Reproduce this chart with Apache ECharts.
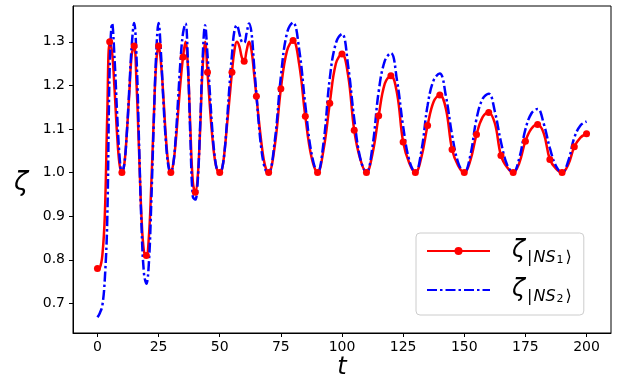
<!DOCTYPE html>
<html>
<head>
<meta charset="utf-8">
<script src="https://cdn.jsdelivr.net/npm/echarts@6/dist/echarts.min.js"></script>
<style>
html, body { margin: 0; padding: 0; background: #fff; }
#chart { width: 619px; height: 383px; }
</style>
</head>
<body>
<div id="chart"></div>
<script>
// time grid: fine steps in the fast part, coarser later
var tEarly = [0, 1, 2, 3, 4, 5, 6, 7, 8, 9,
  10, 11, 12, 13, 14, 15, 16, 17, 18, 19,
  20, 21, 22, 23, 24, 25, 26, 27, 28, 29,
  30, 31, 32, 33, 34, 35, 36, 37, 38, 39,
  40, 41, 42, 43, 44, 45, 46, 47, 48, 49,
  50, 51, 52, 53, 54, 55, 56, 57, 58, 59,
  60, 61, 62, 63, 64, 65, 66, 67, 68, 69, 70];
var tLate = [72.5, 75, 77.5, 80, 82.5, 85, 87.5, 90,
  92.5, 95, 97.5, 100, 102.5, 105, 107.5, 110,
  112.5, 115, 117.5, 120, 122.5, 125, 127.5, 130,
  132.5, 135, 137.5, 140, 142.5, 145, 147.5, 150,
  152.5, 155, 157.5, 160, 162.5, 165, 167.5, 170,
  172.5, 175, 177.5, 180, 182.5, 185, 187.5, 190,
  192.5, 195, 197.5, 200];

// zeta |NS1>
var redEarly = [0.780, 0.782, 0.810, 0.900, 1.130, 1.300, 1.275, 1.190, 1.090, 1.020,
  1.000, 1.020, 1.090, 1.180, 1.270, 1.290, 1.200, 1.050, 0.900, 0.820,
  0.810, 0.850, 0.970, 1.120, 1.250, 1.290, 1.250, 1.170, 1.080, 1.020,
  1.000, 1.020, 1.070, 1.140, 1.210, 1.265, 1.300, 1.240, 1.100, 0.980,
  0.955, 0.990, 1.100, 1.240, 1.300, 1.230, 1.150, 1.080, 1.030, 1.005,
  1.000, 1.010, 1.050, 1.110, 1.170, 1.230, 1.280, 1.300, 1.290, 1.265,
  1.255, 1.280, 1.300, 1.280, 1.230, 1.175, 1.120, 1.070, 1.030, 1.007, 1.000];
var redLate = [1.061, 1.192, 1.279, 1.303, 1.248, 1.129, 1.036, 1.000,
  1.054, 1.159, 1.250, 1.272, 1.223, 1.097, 1.030, 1.000,
  1.044, 1.130, 1.204, 1.222, 1.182, 1.070, 1.022, 1.000,
  1.036, 1.108, 1.163, 1.178, 1.146, 1.053, 1.016, 1.000,
  1.028, 1.087, 1.127, 1.138, 1.113, 1.039, 1.012, 1.000,
  1.022, 1.072, 1.101, 1.110, 1.090, 1.030, 1.009, 1.000,
  1.018, 1.059, 1.080, 1.089];

// zeta |NS2>
var blueEarly = [0.668, 0.678, 0.695, 0.755, 0.890, 1.240, 1.342, 1.260, 1.140, 1.040,
  1.000, 1.020, 1.090, 1.190, 1.290, 1.343, 1.260, 1.070, 0.880, 0.770,
  0.745, 0.790, 0.930, 1.110, 1.270, 1.343, 1.270, 1.160, 1.070, 1.015,
  1.000, 1.020, 1.080, 1.170, 1.260, 1.320, 1.342, 1.250, 1.080, 0.945,
  0.938, 0.980, 1.110, 1.260, 1.338, 1.270, 1.180, 1.095, 1.035, 1.005,
  1.000, 1.010, 1.050, 1.120, 1.200, 1.270, 1.325, 1.338, 1.320, 1.300,
  1.298, 1.320, 1.342, 1.320, 1.250, 1.180, 1.110, 1.055, 1.020, 1.003, 1.000];
var blueLate = [1.072, 1.220, 1.320, 1.344, 1.282, 1.155, 1.045, 1.000,
  1.071, 1.216, 1.297, 1.318, 1.245, 1.123, 1.032, 1.000,
  1.061, 1.186, 1.256, 1.274, 1.211, 1.106, 1.028, 1.000,
  1.051, 1.154, 1.212, 1.227, 1.175, 1.087, 1.023, 1.000,
  1.040, 1.123, 1.169, 1.181, 1.140, 1.070, 1.018, 1.000,
  1.033, 1.099, 1.136, 1.146, 1.112, 1.056, 1.015, 1.000,
  1.026, 1.080, 1.108, 1.117];

var xTicks = [0, 25, 50, 75, 100, 125, 150, 175, 200];
var yTicks = [0.7, 0.8, 0.9, 1.0, 1.1, 1.2, 1.3];

var tAll = tEarly.concat(tLate);
var redAll = redEarly.concat(redLate);
var blueAll = blueEarly.concat(blueLate);

// markers only every 5 time units on the red curve
var redData = tAll.map(function (t, i) {
    var item = { value: [t, redAll[i]] };
    if (t % 5 !== 0) item.symbol = 'none';
    return item;
});
var blueData = tAll.map(function (t, i) { return [t, blueAll[i]]; });

var legendText = {
    'NS1': '{z|ζ}{bar||}{ns|NS}{one|1}{ket|⟩}',
    'NS2': '{z|ζ}{bar||}{ns|NS}{one|2}{ket|⟩}'
};

var myChart = echarts.init(document.getElementById('chart'));

var option = {
    animation: false,
    grid: {
        left: 73, right: 8, top: 6, bottom: 50,
        show: true, borderColor: '#000', borderWidth: 1
    },
    xAxis: {
        type: 'value', min: -10, max: 210,
        splitLine: { show: false },
        axisLine: { show: true, onZero: false, lineStyle: { color: '#000', width: 1 } },
        axisTick: { show: true, inside: false, length: 4, lineStyle: { color: '#000' }, customValues: xTicks },
        axisLabel: { customValues: xTicks, color: '#000', fontSize: 14, fontFamily: 'DejaVu Sans', margin: 7 }
    },
    yAxis: {
        type: 'value', min: 0.632, max: 1.382,
        splitLine: { show: false },
        axisLine: { show: true, onZero: false, lineStyle: { color: '#000', width: 1 } },
        axisTick: { show: true, inside: false, length: 4, lineStyle: { color: '#000' }, customValues: yTicks },
        axisLabel: {
            customValues: yTicks, color: '#000', fontSize: 14, fontFamily: 'DejaVu Sans', margin: 8,
            formatter: function (v) { return v.toFixed(1); }
        }
    },
    legend: {
        orient: 'vertical', left: 416, top: 233,
        padding: [6, 12, 10, 10],
        itemWidth: 63, itemHeight: 10, itemGap: 12,
        backgroundColor: 'rgba(255,255,255,0.8)',
        borderColor: '#cccccc', borderWidth: 1, borderRadius: 4,
        data: ['NS1', { name: 'NS2', itemStyle: { opacity: 0 } }],
        formatter: function (name) { return legendText[name]; },
        textStyle: {
            color: '#000',
            rich: {
                z: { fontFamily: 'DejaVu Sans', fontStyle: 'italic', fontSize: 24, lineHeight: 30, verticalAlign: 'middle', padding: [0, 1, 0, 17] },
                bar: { fontFamily: 'DejaVu Sans', fontSize: 16, lineHeight: 18, verticalAlign: 'bottom', padding: [0, 1, 0, 1] },
                ns: { fontFamily: 'DejaVu Sans', fontStyle: 'italic', fontSize: 16, lineHeight: 18, verticalAlign: 'bottom' },
                one: { fontFamily: 'DejaVu Sans', fontSize: 11, lineHeight: 12, verticalAlign: 'bottom', padding: [0, 2, 0, 1] },
                ket: { fontFamily: 'DejaVu Sans', fontSize: 16, lineHeight: 18, verticalAlign: 'bottom' }
            }
        }
    },
    graphic: [
        { type: 'text', x: 21, y: 183, style: { text: 'ζ', font: 'italic 26px DejaVu Sans', fill: '#000', align: 'center', verticalAlign: 'middle' } },
        { type: 'text', x: 342, y: 368, style: { text: 't', font: 'italic 24px DejaVu Sans', fill: '#000', align: 'center', verticalAlign: 'middle' } }
    ],
    series: [
        {
            name: 'NS1', type: 'line', data: redData,
            smooth: 0.4, symbol: 'circle', symbolSize: 7,
            itemStyle: { color: '#ff0000' },
            lineStyle: { color: '#ff0000', width: 2.5 }
        },
        {
            name: 'NS2', type: 'line', data: blueData,
            smooth: 0.4, symbol: 'none', showSymbol: false,
            itemStyle: { color: '#0000ff' },
            lineStyle: { color: '#0000ff', width: 2.5, type: [10, 3, 2.5, 3] }
        }
    ]
};

myChart.setOption(option);
</script>
</body>
</html>
